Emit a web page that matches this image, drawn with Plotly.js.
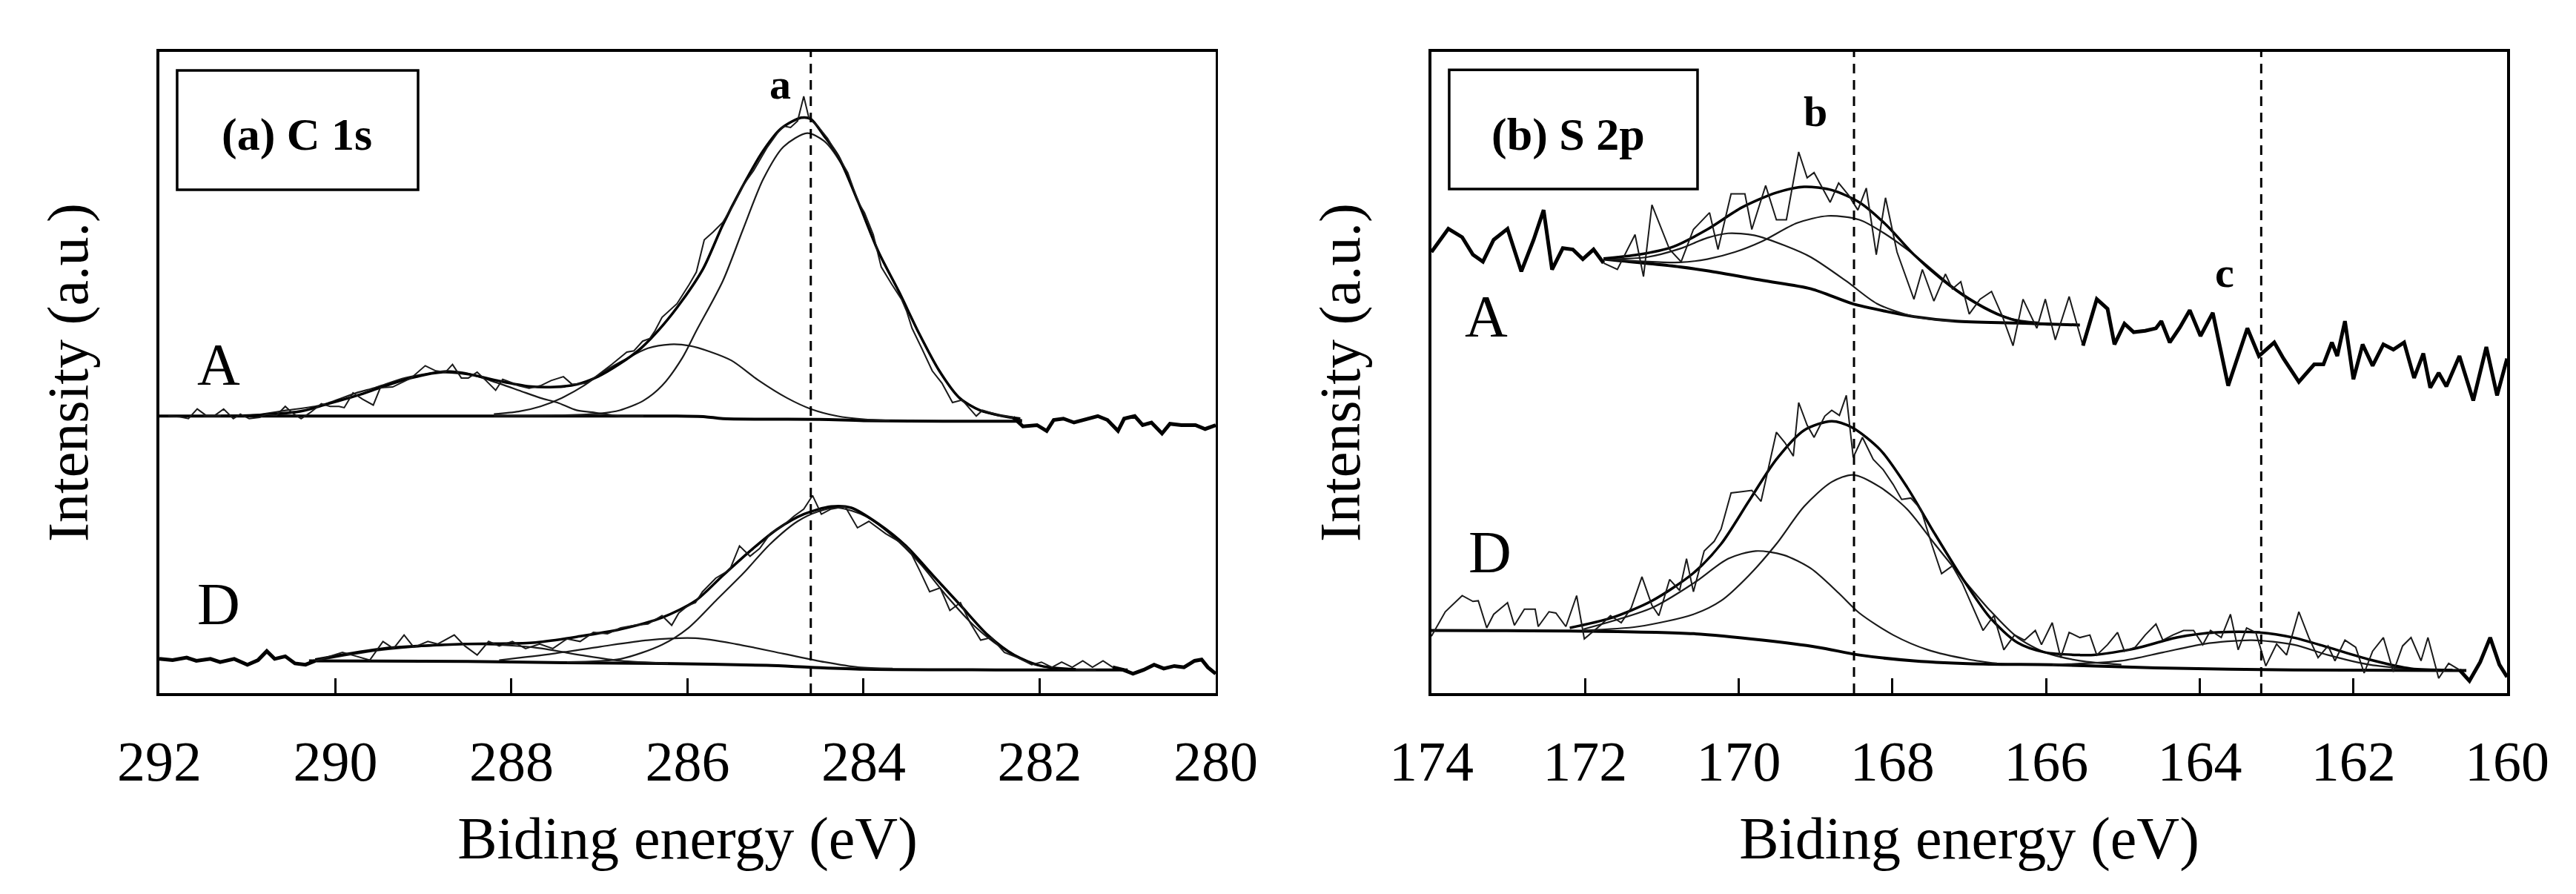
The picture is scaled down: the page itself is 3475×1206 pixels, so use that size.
<!DOCTYPE html>
<html><head><meta charset="utf-8">
<script src="https://cdn.plot.ly/plotly-3.0.1.min.js"></script>
<style>html,body{margin:0;padding:0;background:#fff}</style>
</head><body><div id="chart" style="width:3475px;height:1206px"></div>
<script>
// ---------------- (a) C 1s : spectrum A ----------------
const c1sA_raw_x = [291.90,291.77,291.67,291.57,291.47,291.37,291.27,291.16,291.08,290.98,290.86,290.78,290.67,290.57,290.49,290.39,290.29,290.16,290.06,289.96,289.90,289.80,289.69,289.57,289.49,289.35,289.14,288.98,288.86,288.75,288.67,288.57,288.49,288.39,288.29,288.18,288.10,288.02,287.92,287.80,287.67,287.55,287.41,287.31,287.14,287.02,286.86,286.69,286.61,286.51,286.43,286.37,286.29,286.12,285.98,285.90,285.81,285.71,285.60,285.48,285.37,285.25,285.10,284.98,284.91,284.83,284.75,284.68,284.62,284.52,284.41,284.29,284.18,284.06,283.99,283.89,283.80,283.68,283.57,283.51,283.45,283.34,283.22,283.11,282.99,282.88,282.72,282.65,282.45,282.30,282.19];
const c1sA_raw_y = [43.6,43.5,43.2,44.7,43.7,43.7,44.7,43.2,43.9,43.2,43.4,43.9,43.7,45.1,44.1,43.2,44.1,45.5,45.1,45.1,44.9,47.2,46.2,45.3,48.0,48.1,49.5,51.4,50.6,50.4,51.6,49.5,49.5,50.4,49.1,47.6,49.3,48.9,48.3,47.9,48.3,49.1,49.7,48.5,48.7,49.9,51.6,53.5,53.7,55.2,55.6,56.8,58.9,61.0,64.0,65.9,70.9,72.1,73.6,76.3,79.3,81.6,85.1,87.4,88.5,88.3,89.3,93.1,89.7,88.5,86.6,83.9,81.3,76.7,75.1,71.7,66.7,64.0,61.7,59.8,57.2,54.1,50.6,48.7,45.7,46.1,43.6,44.5,43.7,43.4,42.0];
const c1sA_tail_x = [282.30,282.19,282.03,281.92,281.84,281.73,281.61,281.50,281.34,281.23,281.11,281.04,280.92,280.83,280.73,280.61,280.52,280.39,280.23,280.12,280.00];
const c1sA_tail_y = [43.4,42.0,42.2,41.3,43.0,43.2,42.6,43.0,43.6,43.0,41.3,43.2,43.6,42.2,42.6,40.9,42.4,42.2,42.2,41.6,42.2];
const c1sA_bg_x = [292.0,288.0,286.2,285.8,285.6,284.5,284.0,283.0,282.2];
const c1sA_bg_y = [43.6,43.6,43.6,43.5,43.2,43.1,42.9,42.8,42.8];
const c1sA_env_x = [291.3,290.8,290.37,290.16,289.75,289.47,289.14,288.78,288.49,288.16,287.8,287.51,287.26,287.02,286.78,286.53,286.29,286.06,285.82,285.6,285.37,285.14,284.94,284.71,284.60,284.45,284.29,284.06,283.83,283.60,283.37,283.14,282.91,282.68,282.45,282.22];
const c1sA_env_y = [43.6,43.8,44.4,45.2,46.8,48.1,49.5,50.4,50.1,49.1,48.2,48.1,48.5,49.7,51.6,54.1,57.5,61.5,66.5,73.2,79.3,84.7,88.1,89.8,89.6,87.0,83.9,76.7,69.0,62.9,56.4,50.6,46.4,44.5,43.7,43.2];
const c1sA_p1_x = [288.2,287.5,287.0,286.77,286.5,286.29,286.06,285.9,285.6,285.37,285.14,284.91,284.64,284.45,284.26,284.06,283.83,283.6,283.37,283.14,282.91,282.68,282.45,282.2];
const c1sA_p1_y = [43.6,43.7,44.0,44.5,46.0,48.3,52.6,56.8,64.5,72.5,80.3,85.3,87.4,86.2,82.8,76.7,69.0,62.9,56.4,50.6,46.4,44.5,43.6,43.0];
const c1sA_p2_x = [288.2,287.92,287.67,287.43,287.18,286.94,286.69,286.45,286.2,285.98,285.75,285.5,285.19,284.87,284.6,284.3,284.0,283.7];
const c1sA_p2_y = [43.9,44.3,45.1,46.4,48.3,50.6,52.5,54.1,54.7,54.5,53.6,52.2,49.1,46.4,44.7,43.6,43.1,42.9];
const c1sA_p3_x = [291.5,290.9,290.55,290.16,289.76,289.55,289.21,288.95,288.74,288.53,288.24,287.92,287.67,287.48,287.26,287.08,286.78,286.5];
const c1sA_p3_y = [43.6,43.8,44.5,45.3,47.2,48.0,49.5,50.2,50.6,50.3,49.1,47.6,46.4,45.7,44.5,44.2,43.6,43.6];

// ---------------- (a) C 1s : spectrum D ----------------
const c1sD_head_x = [292.00,291.85,291.69,291.58,291.42,291.31,291.15,291.00,290.88,290.78,290.69,290.57,290.46,290.34,290.23];
const c1sD_head_y = [6.0,5.8,6.2,5.7,6.0,5.5,6.0,5.1,5.8,7.2,6.0,6.4,5.3,5.1,5.7];
const c1sD_raw_x = [290.23,290.07,289.92,289.76,289.61,289.46,289.34,289.22,289.11,288.95,288.84,288.65,288.53,288.39,288.26,288.14,287.99,287.84,287.68,287.53,287.37,287.22,287.07,286.91,286.76,286.60,286.45,286.29,286.18,286.10,285.99,285.91,285.83,285.68,285.52,285.41,285.29,285.18,285.06,284.91,284.79,284.68,284.58,284.48,284.37,284.21,284.07,283.94,283.75,283.60,283.48,283.36,283.25,283.13,283.02,282.90,282.79,282.67,282.55,282.40,282.25,282.09,281.98,281.86,281.75,281.63,281.51,281.40,281.28,281.17];
const c1sD_raw_y = [5.7,6.4,7.0,6.4,5.8,8.7,7.6,9.7,7.8,8.7,8.3,9.7,8.0,6.6,8.7,8.0,8.7,7.6,8.3,7.6,9.1,8.7,10.1,9.9,10.8,11.2,11.4,12.7,11.2,13.1,14.3,14.7,16.4,18.5,19.8,23.5,21.9,23.1,25.4,26.7,28.1,29.2,31.3,28.4,29.2,29.6,26.3,27.3,25.4,24.2,22.9,19.6,16.4,17.0,13.5,14.7,11.6,8.9,9.3,7.0,6.2,5.1,5.5,4.7,5.5,4.7,5.7,4.7,5.7,4.7];
const c1sD_tail_x = [281.17,281.05,280.94,280.82,280.70,280.59,280.47,280.36,280.24,280.16,280.09,280.00];
const c1sD_tail_y = [4.7,4.3,3.7,4.3,5.1,4.5,4.9,4.7,5.7,5.9,4.7,3.7];
const c1sD_bg_x = [290.3,288.5,287.4,286.3,285.1,284.6,284.0,282.5,281.0];
const c1sD_bg_y = [5.7,5.6,5.4,5.3,5.0,4.7,4.4,4.3,4.3];
const c1sD_env_x = [290.23,289.46,288.53,287.76,287.22,286.76,286.29,285.91,285.6,285.29,284.98,284.68,284.37,284.14,283.83,283.52,283.21,282.9,282.59,282.29,281.98,281.59];
const c1sD_env_y = [5.9,7.6,8.3,8.5,9.5,10.6,12.4,15.0,18.9,22.7,26.1,28.4,29.6,29.4,26.9,23.5,18.9,14.3,9.7,6.6,4.9,4.4];
const c1sD_p1_x = [287.37,286.76,286.29,285.99,285.68,285.37,285.06,284.75,284.52,284.29,283.98,283.67,283.36,283.06,282.75,282.44,282.13,281.82,281.36];
const c1sD_p1_y = [5.5,6.0,8.2,10.8,15.0,19.2,23.8,27.3,28.8,29.4,28.1,25.0,20.8,15.8,11.2,7.8,5.5,4.5,4.3];
const c1sD_p2_x = [288.14,287.53,286.99,286.45,285.91,285.45,284.91,284.44,284.06,283.67];
const c1sD_p2_y = [5.8,6.8,7.9,8.9,9.2,8.3,6.8,5.5,4.7,4.5];
const c1sD_p3_x = [290.23,289.46,288.53,287.76,287.22,286.76,286.22];
const c1sD_p3_y = [5.7,7.4,8.3,7.8,6.6,5.7,5.3];

// ---------------- (b) S 2p : spectrum A ----------------
const s2pA_head_x = [174.00,173.78,173.60,173.46,173.33,173.19,173.01,172.83,172.67,172.54,172.43,172.29,172.16,172.03,171.89,171.76];
const s2pA_head_y = [69.0,72.6,71.3,68.6,67.5,70.9,72.6,66.0,70.9,75.5,66.3,69.6,69.4,67.9,69.4,67.3];
const s2pA_raw_x = [171.76,171.58,171.35,171.24,171.13,170.90,170.75,170.59,170.38,170.27,170.10,169.92,169.83,169.65,169.51,169.38,169.22,169.11,169.02,168.81,168.70,168.57,168.45,168.34,168.21,168.09,167.94,167.72,167.61,167.46,167.31,167.22,167.11,167.00,166.86,166.71,166.57,166.43,166.30,166.12,166.01,165.88,165.70,165.52];
const s2pA_raw_y = [67.3,66.3,71.7,65.2,76.3,69.4,67.5,72.5,75.1,69.4,78.0,78.0,72.5,79.3,74.0,74.0,84.5,80.5,81.3,76.7,79.7,77.8,75.5,78.9,68.6,77.4,69.0,61.7,66.3,61.4,65.6,63.3,64.4,59.4,61.7,62.9,59.1,54.5,61.7,57.2,61.7,55.4,62.1,54.5];
const s2pA_tail_x = [165.52,165.34,165.20,165.11,164.98,164.86,164.71,164.57,164.50,164.39,164.26,164.13,163.99,163.83,163.63,163.50,163.38,163.23,163.03,162.91,162.71,162.51,162.39,162.28,162.21,162.11,162.00,161.88,161.75,161.61,161.48,161.34,161.21,161.09,161.00,160.89,160.79,160.62,160.44,160.27,160.13,160.00];
const s2pA_tail_y = [54.5,61.7,60.2,54.7,57.9,56.6,56.8,57.2,58.3,55.0,57.3,60.0,56.0,59.6,48.3,53.1,57.2,52.9,55.0,52.5,48.9,51.6,51.6,55.0,52.9,58.3,49.3,54.7,51.4,54.7,53.9,55.0,49.5,53.3,48.0,50.3,48.2,52.9,46.0,54.3,46.8,52.5];
const s2pA_bg_x = [171.76,170.77,170.41,169.69,169.06,168.52,168.08,167.72,167.18,166.37,165.56];
const s2pA_bg_y = [67.9,66.7,66.1,64.6,63.3,61.0,59.8,59.0,58.3,58.0,57.7];
const s2pA_env_x = [171.76,171.31,170.86,170.41,169.96,169.51,169.15,168.79,168.43,168.08,167.72,167.36,167.0,166.64,166.28,165.92];
const s2pA_env_y = [68.0,68.6,69.8,72.5,75.9,78.2,79.1,78.6,76.7,73.2,68.6,64.8,61.7,59.4,58.1,57.8];
const s2pA_p1_x = [171.76,170.77,170.41,170.05,169.69,169.24,168.84,168.43,168.08,167.72,167.18,166.82,166.46,166.10];
const s2pA_p1_y = [67.9,67.4,67.9,69.0,70.7,73.5,74.6,74.0,71.7,68.6,63.3,60.6,58.7,58.1];
const s2pA_p2_x = [171.76,171.2,170.77,170.41,170.14,169.8,169.4,169.06,168.6,168.2,167.72,167.2];
const s2pA_p2_y = [67.9,68.2,69.5,71.2,71.9,71.6,70.0,68.2,64.5,61.0,59.0,58.3];

// ---------------- (b) S 2p : spectrum D ----------------
const s2pD_raw_x = [174.00,173.82,173.60,173.46,173.39,173.28,173.19,173.01,172.92,172.79,172.65,172.61,172.47,172.38,172.25,172.11,172.01,171.80,171.67,171.53,171.40,171.26,171.13,171.04,170.90,170.77,170.68,170.59,170.45,170.32,170.23,170.10,169.96,169.83,169.71,169.60,169.51,169.40,169.29,169.22,169.11,169.02,168.88,168.79,168.69,168.60,168.51,168.39,168.25,168.12,167.99,167.88,167.76,167.63,167.49,167.36,167.22,167.09,166.95,166.82,166.68,166.55,166.41,166.28,166.14,166.06,165.92,165.81,165.70,165.56,165.43,165.34,165.20,165.07,164.98,164.84,164.71,164.57,164.48,164.35,164.21,164.08,163.96,163.86,163.72,163.60,163.50,163.39,163.27,163.14,163.00,162.87,162.71,162.58,162.46,162.33,162.24,162.11,161.97,161.86,161.75,161.61,161.48,161.36,161.25,161.12,161.03,160.89,160.76,160.62];
const s2pD_raw_y = [9.5,13.3,15.8,14.9,15.0,10.8,12.9,14.7,11.2,13.7,13.7,11.0,13.3,13.1,11.0,15.8,9.1,11.2,12.7,11.6,13.9,18.7,14.3,12.7,18.3,16.6,21.5,16.4,22.7,24.2,26.1,31.7,31.9,32.1,30.4,36.1,41.1,39.5,37.4,45.7,42.2,40.3,43.6,44.5,43.7,46.8,37.2,40.3,36.9,35.3,33.0,30.7,30.9,29.2,23.8,19.2,20.4,17.7,13.9,10.4,12.7,7.4,9.7,8.9,10.4,8.2,11.6,6.2,10.1,9.3,9.7,6.6,8.2,10.1,7.2,7.8,9.7,11.4,8.9,9.7,10.4,10.4,8.2,10.4,9.3,12.9,7.4,10.8,10.1,4.9,8.3,6.6,13.3,9.3,6.2,8.0,5.7,8.9,7.8,3.8,7.2,9.3,4.0,8.0,9.3,5.7,9.3,3.0,5.3,4.3];
const s2pD_tail_x = [160.62,160.49,160.35,160.22,160.10,160.00];
const s2pD_tail_y = [4.3,2.6,5.5,9.3,5.1,3.2];
const s2pD_bg_x = [174.0,172.02,170.59,169.69,168.97,168.43,167.72,166.82,165.92,164.57,162.78,160.53];
const s2pD_bg_y = [10.4,10.3,9.9,8.9,7.8,6.6,5.7,5.2,5.1,4.6,4.3,4.2];
const s2pD_env_x = [172.2,171.67,171.13,170.59,170.23,169.87,169.51,169.15,168.79,168.52,168.16,167.81,167.45,167.09,166.73,166.37,166.01,165.56,165.38,164.84,164.3,163.77,163.23,162.78,162.33,161.79,161.25,160.71];
const s2pD_env_y = [10.8,12.3,15.0,19.3,23.8,30.4,36.9,41.4,42.8,41.8,38.4,32.6,25.4,18.5,12.4,8.5,7.0,6.6,6.6,7.6,9.3,10.1,10.1,9.3,7.8,5.9,4.5,4.3];
const s2pD_p1_x = [172.02,171.31,170.59,170.23,169.87,169.51,169.15,168.79,168.51,168.16,167.81,167.45,167.09,166.73,166.37,166.01,165.56,165.02];
const s2pD_p1_y = [10.4,11.0,12.9,15.0,18.9,23.8,29.6,33.4,34.5,32.6,29.2,23.8,18.5,13.5,9.3,7.0,5.7,5.1];
const s2pD_p2_x = [172.02,171.13,170.59,170.14,169.78,169.42,169.06,168.7,168.43,167.99,167.54,167.0,166.64];
const s2pD_p2_y = [10.6,13.9,17.7,21.5,22.7,22.1,20.0,16.2,13.1,9.7,7.4,5.9,5.3];
const s2pD_p3_x = [165.92,165.02,164.48,163.95,163.32,162.78,162.33,161.79,161.25];
const s2pD_p3_y = [5.1,5.7,7.0,8.3,8.9,8.2,6.6,5.1,4.4];

// ---------------- reference lines and labels ----------------
const c1s_ref_lines = [284.6];
const s2p_ref_lines = [168.5, 163.2];
const c1s_peak_labels = ['a'];
const c1s_peak_label_x = [284.95];
const c1s_peak_label_y = [95.0];
const s2p_peak_labels = ['b', 'c'];
const s2p_peak_label_x = [169.0, 163.68];
const s2p_peak_label_y = [90.8, 65.8];
const sample_labels = ['A', 'D'];
const c1s_sample_label_x = [291.33, 291.33];
const c1s_sample_label_y = [51.5, 14.5];
const s2p_sample_label_x = [173.29, 173.24];
const s2p_sample_label_y = [59.0, 22.5];
const panel_titles = ['(a) C 1s', '(b) S 2p'];
const x_tick_c1s = [292, 290, 288, 286, 284, 282, 280];
const x_tick_s2p = [174, 172, 170, 168, 166, 164, 162, 160];

// ---------------- drawing ----------------
const SERIF = 'Liberation Serif, Times New Roman, serif';
function tr(x, y, xa, ya, w, color, shape) {
  return {x: x, y: y, xaxis: xa, yaxis: ya, type: 'scatter', mode: 'lines',
    line: {color: color, width: w, shape: shape || 'linear', smoothing: 0.8},
    hoverinfo: 'skip', showlegend: false};
}
const THIN = '#1a1a1a';
const traces = [
  // C 1s A
  tr(c1sA_bg_x, c1sA_bg_y, 'x', 'y', 4, '#000', 'spline'),
  tr(c1sA_p3_x, c1sA_p3_y, 'x', 'y', 2.2, THIN, 'spline'),
  tr(c1sA_p2_x, c1sA_p2_y, 'x', 'y', 2.2, THIN, 'spline'),
  tr(c1sA_p1_x, c1sA_p1_y, 'x', 'y', 2.2, THIN, 'spline'),
  tr(c1sA_env_x, c1sA_env_y, 'x', 'y', 3.5, '#000', 'spline'),
  tr(c1sA_raw_x, c1sA_raw_y, 'x', 'y', 2, THIN),
  tr(c1sA_tail_x, c1sA_tail_y, 'x', 'y', 5, '#000'),
  // C 1s D
  tr(c1sD_bg_x, c1sD_bg_y, 'x', 'y', 4, '#000', 'spline'),
  tr(c1sD_p3_x, c1sD_p3_y, 'x', 'y', 2.2, THIN, 'spline'),
  tr(c1sD_p2_x, c1sD_p2_y, 'x', 'y', 2.2, THIN, 'spline'),
  tr(c1sD_p1_x, c1sD_p1_y, 'x', 'y', 2.2, THIN, 'spline'),
  tr(c1sD_env_x, c1sD_env_y, 'x', 'y', 3.5, '#000', 'spline'),
  tr(c1sD_head_x, c1sD_head_y, 'x', 'y', 5, '#000'),
  tr(c1sD_raw_x, c1sD_raw_y, 'x', 'y', 2, THIN),
  tr(c1sD_tail_x, c1sD_tail_y, 'x', 'y', 5, '#000'),
  // S 2p A
  tr(s2pA_bg_x, s2pA_bg_y, 'x2', 'y2', 4, '#000', 'spline'),
  tr(s2pA_p2_x, s2pA_p2_y, 'x2', 'y2', 2.2, THIN, 'spline'),
  tr(s2pA_p1_x, s2pA_p1_y, 'x2', 'y2', 2.2, THIN, 'spline'),
  tr(s2pA_env_x, s2pA_env_y, 'x2', 'y2', 3.5, '#000', 'spline'),
  tr(s2pA_head_x, s2pA_head_y, 'x2', 'y2', 5, '#000'),
  tr(s2pA_raw_x, s2pA_raw_y, 'x2', 'y2', 2, THIN),
  tr(s2pA_tail_x, s2pA_tail_y, 'x2', 'y2', 5, '#000'),
  // S 2p D
  tr(s2pD_bg_x, s2pD_bg_y, 'x2', 'y2', 4, '#000', 'spline'),
  tr(s2pD_p3_x, s2pD_p3_y, 'x2', 'y2', 2.2, THIN, 'spline'),
  tr(s2pD_p2_x, s2pD_p2_y, 'x2', 'y2', 2.2, THIN, 'spline'),
  tr(s2pD_p1_x, s2pD_p1_y, 'x2', 'y2', 2.2, THIN, 'spline'),
  tr(s2pD_env_x, s2pD_env_y, 'x2', 'y2', 3.5, '#000', 'spline'),
  tr(s2pD_raw_x, s2pD_raw_y, 'x2', 'y2', 2, THIN),
  tr(s2pD_tail_x, s2pD_tail_y, 'x2', 'y2', 5, '#000')
];

function xax(domain, range, ticks, anchor) {
  return {domain: domain, range: range, anchor: anchor, tickmode: 'array', tickvals: ticks,
    ticktext: ticks.map(String), ticks: 'inside', ticklen: 20, tickwidth: 3, tickcolor: '#000',
    showline: true, linewidth: 3.5, linecolor: '#000', mirror: true, showgrid: false, zeroline: false,
    ticklabelstandoff: 23,
    tickfont: {family: SERIF, size: 76, color: '#000'},
    title: {text: 'Biding energy (eV)', font: {family: SERIF, size: 80, color: '#000'}, standoff: 35}};
}
function yax(domain, anchor) {
  return {domain: domain, range: [0.7, 100], anchor: anchor, showticklabels: false, ticks: '',
    showline: true, linewidth: 3.5, linecolor: '#000', mirror: true, showgrid: false, zeroline: false,
    title: {text: 'Intensity (a.u.)', font: {family: SERIF, size: 78, color: '#000'}, standoff: 68}};
}

const shapes = [];
c1s_ref_lines.forEach(v => shapes.push({type: 'line', xref: 'x', yref: 'y domain', x0: v, x1: v, y0: 0, y1: 1,
  line: {color: '#000', width: 3, dash: '13px,9px'}}));
s2p_ref_lines.forEach(v => shapes.push({type: 'line', xref: 'x2', yref: 'y2 domain', x0: v, x1: v, y0: 0, y1: 1,
  line: {color: '#000', width: 3, dash: '13px,9px'}}));
shapes.push({type: 'rect', xref: 'x domain', yref: 'y domain', x0: 0.0168, x1: 0.2449, y0: 0.785, y1: 0.971,
  line: {color: '#000', width: 3.5}, fillcolor: 'rgba(0,0,0,0)'});
shapes.push({type: 'rect', xref: 'x2 domain', yref: 'y2 domain', x0: 0.0165, x1: 0.2474, y0: 0.786, y1: 0.972,
  line: {color: '#000', width: 3.5}, fillcolor: 'rgba(0,0,0,0)'});

const annotations = [];
annotations.push({xref: 'x domain', yref: 'y domain', x: 0.1305, y: 0.8705, xanchor: 'center', yanchor: 'middle',
  text: '<b>' + panel_titles[0] + '</b>', showarrow: false, font: {family: SERIF, size: 62, color: '#000'}});
annotations.push({xref: 'x2 domain', yref: 'y2 domain', x: 0.1275, y: 0.8705, xanchor: 'center', yanchor: 'middle',
  text: '<b>' + panel_titles[1] + '</b>', showarrow: false, font: {family: SERIF, size: 62, color: '#000'}});
c1s_peak_labels.forEach((t, i) => annotations.push({xref: 'x', yref: 'y', x: c1s_peak_label_x[i], y: c1s_peak_label_y[i],
  xanchor: 'center', yanchor: 'middle',
  text: '<b>' + t + '</b>', showarrow: false, font: {family: SERIF, size: 58, color: '#000'}}));
s2p_peak_labels.forEach((t, i) => annotations.push({xref: 'x2', yref: 'y2', x: s2p_peak_label_x[i], y: s2p_peak_label_y[i],
  xanchor: 'center', yanchor: 'middle',
  text: '<b>' + t + '</b>', showarrow: false, font: {family: SERIF, size: 58, color: '#000'}}));
sample_labels.forEach((t, i) => {
  annotations.push({xref: 'x', yref: 'y', x: c1s_sample_label_x[i], y: c1s_sample_label_y[i], text: t,
    xanchor: 'center', yanchor: 'middle', showarrow: false, font: {family: SERIF, size: 80, color: '#000'}});
  annotations.push({xref: 'x2', yref: 'y2', x: s2p_sample_label_x[i], y: s2p_sample_label_y[i], text: t,
    xanchor: 'center', yanchor: 'middle', showarrow: false, font: {family: SERIF, size: 80, color: '#000'}});
});

const layout = {
  width: 3475, height: 1206, margin: {l: 0, r: 0, t: 0, b: 0},
  paper_bgcolor: '#fff', plot_bgcolor: '#fff', showlegend: false,
  font: {family: SERIF, color: '#000'},
  xaxis: xax([0.06187, 0.47194], [292, 280], x_tick_c1s, 'y'),
  yaxis: yax([0.2247, 0.942], 'x'),
  xaxis2: xax([0.55568, 0.97324], [174, 160], x_tick_s2p, 'y2'),
  yaxis2: yax([0.2247, 0.942], 'x2'),
  shapes: shapes, annotations: annotations
};
Plotly.newPlot('chart', traces, layout, {staticPlot: true, displayModeBar: false});
</script></body></html>
